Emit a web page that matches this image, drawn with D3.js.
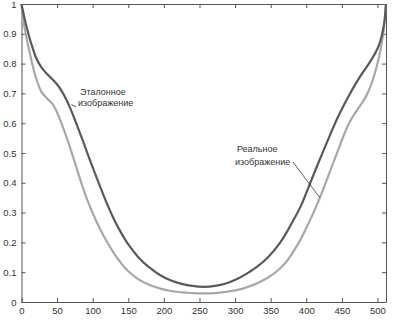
<!DOCTYPE html>
<html>
<head>
<meta charset="utf-8">
<script src="https://cdn.jsdelivr.net/npm/d3@7"></script>
<style>
  body { margin: 0; background: #fff; }
  text { font-family: "Liberation Sans", Arial, sans-serif; }
</style>
</head>
<body>
<div id="vis"></div>
<script>
// SVG geometry
var width = 397;
var height = 320;
var margin = { top: 4, left: 21.5, bottom: 18, right: 11 };

// data
var xTicks = [0, 50, 100, 150, 200, 250, 300, 350, 400, 450, 500];
var yTicks = [0, 0.1, 0.2, 0.3, 0.4, 0.5, 0.6, 0.7, 0.8, 0.9, 1];
var yTickLabels = ["0", "0.1", "0.2", "0.3", "0.4", "0.5", "0.6", "0.7", "0.8", "0.9", "1"];

// reference image (dark curve)
var refX = [0, 4, 8, 12, 16, 20, 28, 36, 44, 52, 60, 68, 76, 84, 92, 100, 110, 120, 130, 140, 150,
  165, 180, 195, 210, 225, 240, 256, 272, 287, 302, 317, 332, 347, 362, 372, 382, 392, 402, 412,
  420, 428, 436, 444, 452, 460, 468, 476, 484, 492, 500, 504, 508, 510, 512];
var refY = [1.0, 0.955, 0.915, 0.88, 0.85, 0.822, 0.787, 0.765, 0.746, 0.724, 0.693, 0.653, 0.605,
  0.555, 0.503, 0.452, 0.39, 0.33, 0.277, 0.232, 0.193, 0.148, 0.115, 0.09, 0.072, 0.061, 0.054,
  0.051, 0.054, 0.062, 0.076, 0.096, 0.12, 0.152, 0.195, 0.232, 0.275, 0.32, 0.378, 0.438, 0.484,
  0.53, 0.575, 0.618, 0.657, 0.693, 0.727, 0.758, 0.786, 0.815, 0.85, 0.875, 0.915, 0.945, 1.0];

// real image (light curve)
var realX = [0, 2, 4, 8, 12, 16, 20, 28, 36, 44, 52, 60, 68, 76, 84, 92, 100, 110, 120, 130, 140,
  150, 165, 180, 195, 210, 225, 240, 256, 272, 287, 302, 317, 332, 347, 362, 372, 382, 392, 402,
  412, 420, 428, 436, 444, 452, 460, 468, 476, 484, 492, 496, 500, 504, 508, 510, 512];
var realY = [1.0, 0.955, 0.925, 0.875, 0.832, 0.79, 0.755, 0.705, 0.683, 0.663, 0.625, 0.575, 0.52,
  0.46, 0.4, 0.345, 0.298, 0.247, 0.202, 0.163, 0.13, 0.103, 0.075, 0.057, 0.045, 0.037, 0.032,
  0.03, 0.029, 0.03, 0.034, 0.04, 0.05, 0.064, 0.083, 0.11, 0.135, 0.17, 0.21, 0.258, 0.31, 0.355,
  0.405, 0.455, 0.505, 0.555, 0.6, 0.632, 0.66, 0.69, 0.735, 0.765, 0.8, 0.842, 0.9, 0.94, 1.0];

var x = d3.scaleLinear()
  .domain([0, 512])
  .range([margin.left, width - margin.right]);
var y = d3.scaleLinear()
  .domain([0, 1])
  .range([height - margin.bottom, margin.top]);

var svg = d3.select('#vis')
  .append("svg")
  .attr('width', width)
  .attr('height', height);

var axisColor = "#555";

function styleAxis(g) {
  g.selectAll(".domain").attr("stroke", axisColor);
  g.selectAll(".tick line").attr("stroke", axisColor);
  g.selectAll(".tick text").attr("fill", "#333").attr("font-size", 9.5);
}

// bottom axis
svg.append("g")
  .attr("transform", "translate(0," + y(0) + ")")
  .call(d3.axisBottom(x).tickValues(xTicks).tickSizeInner(-4).tickSizeOuter(0).tickPadding(5))
  .call(styleAxis);

// left axis
svg.append("g")
  .attr("transform", "translate(" + x(0) + ",0)")
  .call(d3.axisLeft(y).tickValues(yTicks)
    .tickFormat(function(d, i) { return yTickLabels[i]; })
    .tickSizeInner(-4).tickSizeOuter(0).tickPadding(5))
  .call(styleAxis);

// top axis (box)
svg.append("g")
  .attr("transform", "translate(0," + y(1) + ")")
  .call(d3.axisTop(x).tickValues(xTicks).tickSizeInner(-4).tickSizeOuter(0).tickFormat(""))
  .call(styleAxis);

// right axis (box)
svg.append("g")
  .attr("transform", "translate(" + x(512) + ",0)")
  .call(d3.axisRight(y).tickValues(yTicks).tickSizeInner(-4).tickSizeOuter(0).tickFormat(""))
  .call(styleAxis);

var line = d3.line()
  .x(function(d) { return x(d[0]); })
  .y(function(d) { return y(d[1]); })
  .curve(d3.curveCatmullRom.alpha(0.5));

svg.append("path")
  .datum(d3.zip(realX, realY))
  .attr("fill", "none")
  .attr("stroke", "#a8a8a8")
  .attr("stroke-width", 2.2)
  .attr("stroke-linejoin", "round")
  .attr("d", line);

svg.append("path")
  .datum(d3.zip(refX, refY))
  .attr("fill", "none")
  .attr("stroke", "#5a5a5a")
  .attr("stroke-width", 2.2)
  .attr("stroke-linejoin", "round")
  .attr("d", line);

// annotations
var notes = svg.append("g")
  .attr("font-size", 9)
  .attr("fill", "#333");

notes.append("text").attr("x", 80).attr("y", 95).text("Эталонное");
notes.append("text").attr("x", 78).attr("y", 106).text("изображение");
svg.append("line")
  .attr("x1", 76).attr("y1", 107)
  .attr("x2", x(70)).attr("y2", y(0.663))
  .attr("stroke", "#333").attr("stroke-width", 0.8);

notes.append("text").attr("x", 237).attr("y", 152).text("Реальное");
notes.append("text").attr("x", 235).attr("y", 165).text("изображение");
svg.append("line")
  .attr("x1", 293).attr("y1", 162)
  .attr("x2", x(419)).attr("y2", y(0.35))
  .attr("stroke", "#333").attr("stroke-width", 0.8);
</script>
</body>
</html>
